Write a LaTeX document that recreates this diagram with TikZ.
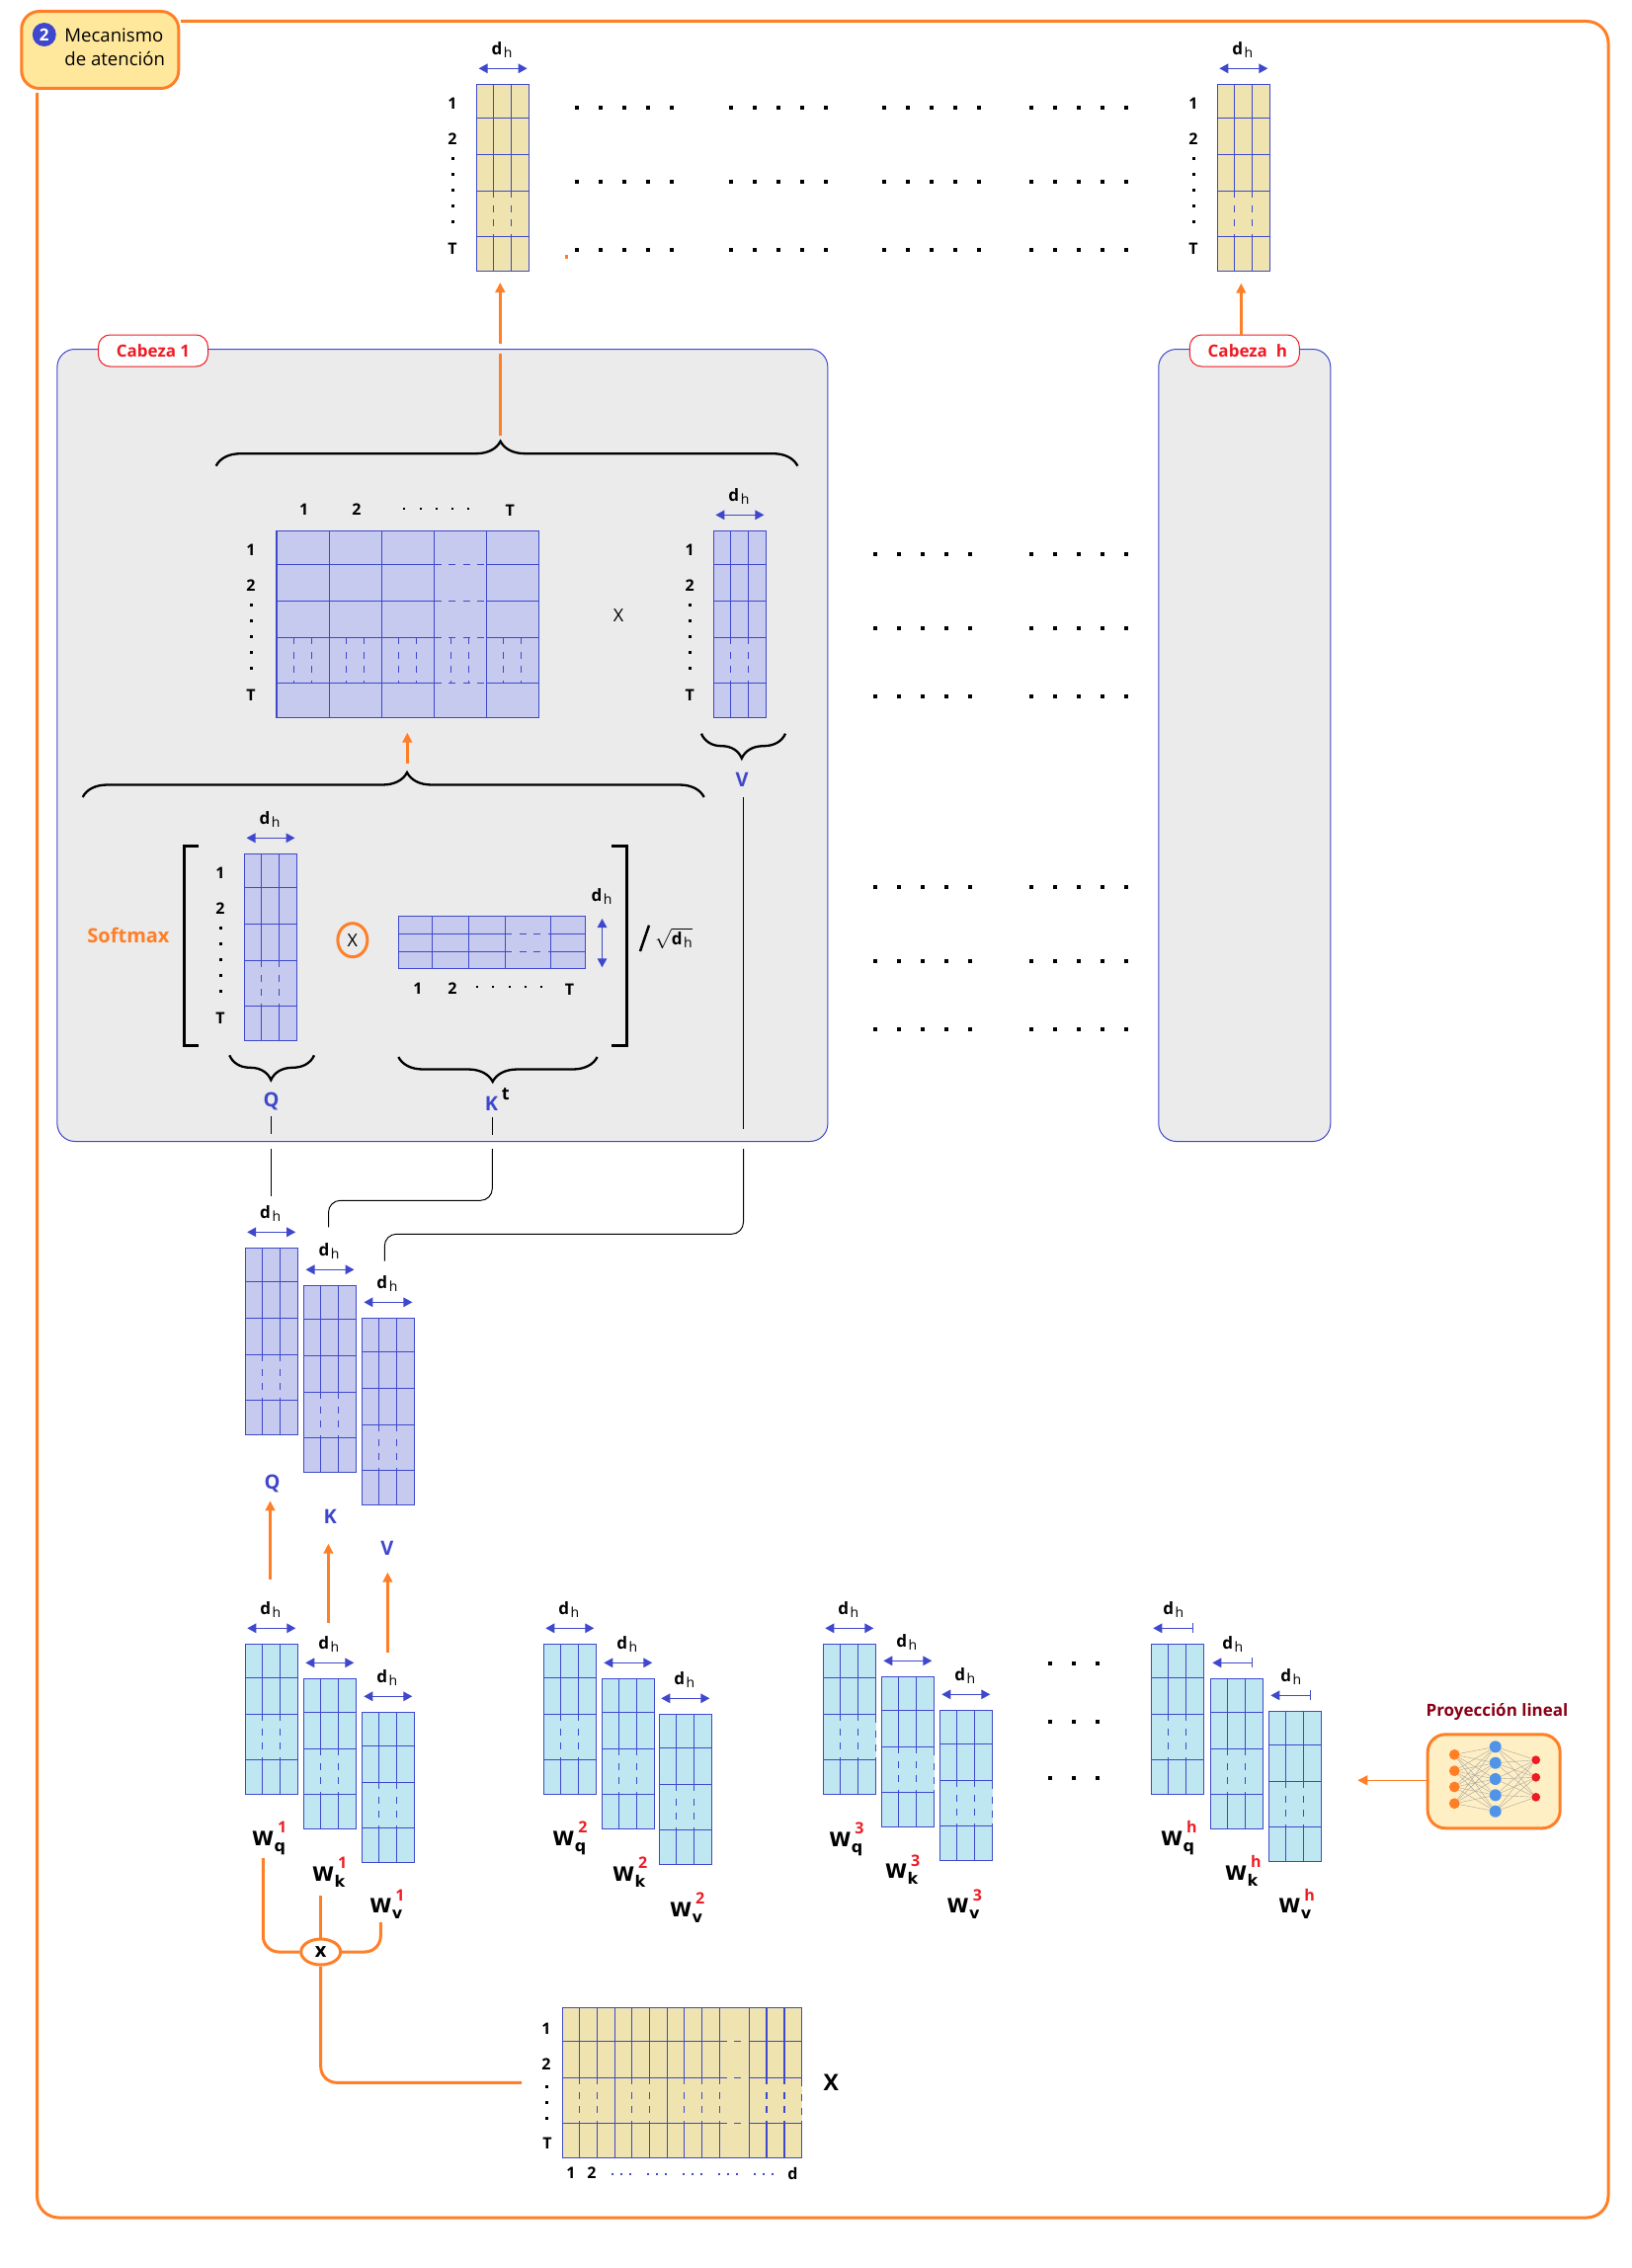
\documentclass[tikz,border=0pt]{standalone}
\usepackage{fontspec}
\setmainfont{Open Sans}
\newfontfamily\widefont{DejaVu Sans}
\usetikzlibrary{arrows.meta, positioning, calc, shapes.geometric, decorations.pathreplacing}
\usepackage{xcolor}

\definecolor{gridblue}{HTML}{3F48CC}
\definecolor{accent}{HTML}{FF7F27}
\definecolor{headred}{HTML}{ED1C24}
\definecolor{tancell}{HTML}{EFE4B0}
\definecolor{lavcell}{HTML}{C6CAEF}
\definecolor{skycell}{HTML}{BFE7F2}
\definecolor{panelgray}{HTML}{EBEBEB}
\definecolor{titlefill}{HTML}{FFE89C}
\definecolor{projfill}{HTML}{FFEFC4}
\definecolor{projtext}{HTML}{880015}
\definecolor{nnblue}{HTML}{4F94E8}

\tikzset{
  gridbox/.style={draw=gridblue, line width=0.65pt, inner sep=0pt, outer sep=0pt, anchor=north west},
  gridline/.style={draw=gridblue, line width=0.6pt},
  griddash/.style={gridline, dash pattern=on 3.5pt off 3.75pt},
  dimarrow/.style={draw=gridblue, line width=0.6pt, {Triangle[length=4.5pt,width=4.8pt]}-{Triangle[length=4.5pt,width=4.8pt]}},
  halfarrow/.style={draw=gridblue, line width=0.6pt, {Triangle[length=4.5pt,width=4.8pt]}-{Bar[width=5pt]}},
  flowarrow/.style={draw=accent, line width=1.5pt, -{Triangle[length=5pt,width=4.8pt]}},
  flowline/.style={draw=accent, line width=1.5pt},
  wire/.style={draw=black, line width=0.5pt},
  mergeline/.style={draw=accent, line width=1.5pt, rounded corners=8pt},
  curly/.style={draw=black, line width=1.15pt, decorate},
  marktxt/.style={font=\bfseries\fontsize{8}{9}\selectfont, inner sep=0pt},
  qkvtxt/.style={font=\bfseries\fontsize{10}{12}\selectfont, text=gridblue, inner sep=0pt},
  panelbox/.style={draw=gridblue, fill=panelgray, line width=0.5pt, rounded corners=9pt, anchor=north west, inner sep=0pt},
  headtag/.style={draw=headred, fill=white, text=headred, line width=0.5pt, rounded corners=6pt, minimum width=55.5pt, minimum height=16pt, inner sep=0pt, font=\bfseries\fontsize{8.5}{10}\selectfont},
}

\newcommand{\dhtxt}{{\bfseries\fontsize{8.5}{9}\selectfont d}\kern0.8pt\raisebox{-1.6pt}{\fontsize{7}{8}\selectfont h}}

% grid column: name, x, y, fill, height, rows, dashed from, dashed to
\newcommand{\gridcol}[8]{
  \node[gridbox, fill=#4, minimum width=26.5pt, minimum height=#5*0.5pt] (#1) at (#2,#3) {};
  \begin{scope}[shift={(#2,#3)}]
    \foreach \rw in {#6} \draw[gridline] (0,\rw) -- (53,\rw);
    \foreach \cl in {17,35} {
      \draw[gridline] (\cl,0) -- (\cl,#7);
      \draw[griddash] (\cl,#7) -- (\cl,#8);
      \draw[gridline] (\cl,#8) -- (\cl,#5);
    }
  \end{scope}
}
\newcommand{\tallcol}[4]{\gridcol{#1}{#2}{#3}{#4}{189}{34,71,108,154}{108}{154}}
\newcommand{\shortcol}[4]{\gridcol{#1}{#2}{#3}{#4}{152.4}{34,71,117}{71}{117}}

% width mark above a column
\newcommand{\dhmark}[1]{
  \draw[dimarrow] ([shift={(1pt,8pt)}]#1.north west) -- ([shift={(-1pt,8pt)}]#1.north east);
  \node[inner sep=0pt] (#1dh) at ([shift={(-0.5pt,17.5pt)}]#1.north) {\dhtxt};
}
\newcommand{\dhhalf}[1]{
  \draw[halfarrow] ([shift={(1pt,8pt)}]#1.north west) -- ([shift={(-5pt,8pt)}]#1.north east);
  \node[inner sep=0pt] (#1dh) at ([shift={(-2pt,17.5pt)}]#1.north) {\dhtxt};
}

% row numbers left of a column
\newcommand{\sqdot}[2]{\fill (#1-1.5,#2-1.5) rectangle (#1+1.5,#2+1.5)}
\newcommand{\rowmarks}[3]{
  \node[marktxt] (#1one) at (#2,#3+19) {1};
  \node[marktxt] (#1two) at (#2,#3+55) {2};
  \foreach \dy in {75,91,107,123,139} \sqdot{#2}{#3+\dy};
  \node[marktxt] (#1last) at (#2,#3+166) {T};
}
\newcommand{\dotrow}[2]{
  \foreach \st in {#1} \foreach \k in {0,...,4} \fill ({\st+24*\k-2},#2-2) rectangle ({\st+24*\k+2},#2+2);
}

% edge of a block that breaks up in its dashed part
\newcommand{\fadeedge}[5]{
  \draw[draw=#5, line width=1pt] (#1,#2+#3) -- (#1,#2+#4);
  \draw[griddash] (#1,#2+#3) -- (#1,#2+#4);
}

\newcommand{\wlab}[5]{
  \node[anchor=base west, inner sep=0pt] (#1) at (#2,#3) {{\widefont\bfseries\fontsize{10}{10}\selectfont W}\kern0.2pt\rlap{\raisebox{-3pt}{\widefont\bfseries\fontsize{8}{9}\selectfont #4}}\kern1.8pt\raisebox{6.3pt}{\bfseries\fontsize{8}{9}\selectfont\textcolor{headred}{#5}}};
}

\begin{document}
\begin{tikzpicture}[x=0.5pt, y=-0.5pt]
  \useasboundingbox (0,0) rectangle (1652,2296);

  % outer frame and title
  \coordinate (frameend) at (37.5,94);
  \coordinate (framestart) at (183,21.5);
  \coordinate (framecorner) at (1628,2245);
  \draw[flowline, rounded corners=11pt] (framestart) -- (framecorner |- framestart) -- (framecorner) -- (frameend |- framecorner) -- (frameend);
  \node[draw=accent, fill=titlefill, line width=1.5pt, rounded corners=9pt, minimum width=79.5pt, minimum height=39pt, anchor=north west, inner sep=0pt] (title) at (20.3,10) {};
  \node[circle, fill=gridblue, text=white, minimum size=12pt, inner sep=0pt, font=\bfseries\fontsize{8.5}{9}\selectfont] (titlenum) at (44.8,35) {2};
  \node[anchor=west, inner sep=0pt, align=left, font=\fontsize{9.3}{12.2}\selectfont] (titletxt) at (65,47.5) {Mecanismo\\de atención};

  % output columns
  \tallcol{outa}{482.6}{85.3}{tancell}
  \dhmark{outa}
  \rowmarks{outa}{458}{85.3}
  \tallcol{outh}{1232.3}{85.3}{tancell}
  \dhmark{outh}
  \rowmarks{outh}{1208}{85.3}
  \foreach \yy in {109,184,253} {\dotrow{583.7,739.9,894.9,1044}{\yy}}
  \fill[accent] (572,258) rectangle (575,262);

  % heads
  \node[panelbox, minimum width=390pt, minimum height=401pt] (head1) at (57.4,353) {};
  \node[panelbox, minimum width=87pt, minimum height=401pt] (headh) at (1172.3,353) {};
  \node[headtag] (tag1) at (155,355) {Cabeza 1};
  \node[headtag] (tagh) at (1259.8,355) {\kern3pt Cabeza \ h};

  \coordinate (uptip) at (506.3,286);
  \coordinate (upgapa) at (506.3,347.7);
  \coordinate (upgapb) at (506.3,358);
  \coordinate (braceatip) at (506.3,441);
  \draw[flowarrow] (upgapa) -- (uptip);
  \draw[flowline] (braceatip) -- (upgapb);
  \coordinate (uphtip) at (1256.3,286.7);
  \draw[flowarrow] (tagh.north -| uphtip) -- (uphtip);

  % upper brace
  \coordinate (braceal) at (218.7,471.7);
  \coordinate (bracear) at (807.4,471.7);
  \draw[curly, decoration={brace, amplitude=12.5pt, aspect=0.489}] (braceal) -- (bracear);

  % attention matrix
  \node[gridbox, fill=lavcell, minimum width=132.7pt, minimum height=94.5pt] (attn) at (280,537.3) {};
  \begin{scope}[shift={(280,537.3)}]
    \foreach \rw in {34,71,108,154} {
      \draw[gridline] (0,\rw) -- (159.6,\rw);
      \draw[griddash] (159.6,\rw) -- (212.3,\rw);
      \draw[gridline] (212.3,\rw) -- (265.4,\rw);
    }
    \foreach \cl in {53.5,106.6,159.6,212.3} \draw[gridline] (\cl,0) -- (\cl,189);
    \foreach \cl in {0,53.1,106.2,159.3,212.4} \foreach \off in {17.4,35.3} \draw[griddash] (\cl+\off,108) -- (\cl+\off,154);
  \end{scope}
  \rowmarks{attn}{254}{537.3}
  \node[marktxt] (attnc1) at (307.8,516) {1};
  \node[marktxt] (attnc2) at (361,516) {2};
  \foreach \xx in {409.4,425.6,441.7,457.9,474} \fill (\xx-1,514) rectangle (\xx+1,516);
  \node[marktxt] (attnct) at (516.3,517) {T};
  \node[inner sep=0pt, font=\fontsize{9}{10}\selectfont] (times) at (626,623) {X};

  % V factor
  \tallcol{vfac}{722.4}{537.3}{lavcell}
  \dhmark{vfac}
  \rowmarks{vfac}{698.3}{537.3}
  \coordinate (vbracel) at (710,742.7);
  \coordinate (vbracer) at (795,742.7);
  \draw[curly, decoration={brace, mirror, amplitude=12.5pt, aspect=0.48}] (vbracel) -- (vbracer);
  \node[qkvtxt] (vlab) at (751,789) {V};

  % arrow and lower brace
  \coordinate (midtip) at (412.3,741.7);
  \coordinate (midbase) at (412.3,772.7);
  \draw[flowarrow] (midbase) -- (midtip);
  \coordinate (bracebl) at (83.7,807);
  \coordinate (bracebr) at (712.7,807);
  \draw[curly, decoration={brace, amplitude=12.5pt, aspect=0.522}] (bracebl) -- (bracebr);

  % softmax
  \node[inner sep=0pt, text=accent, font=\bfseries\fontsize{10}{12}\selectfont] (softmax) at (130,946.7) {Softmax};
  \coordinate (brkla) at (201,856);
  \coordinate (brklb) at (186.3,1058.3);
  \draw[line width=1.5pt] (brkla) -| (brklb) -- (brkla |- brklb);
  \coordinate (brkra) at (619.4,856);
  \coordinate (brkrb) at (634.5,1058.3);
  \draw[line width=1.5pt] (brkra) -| (brkrb) -- (brkra |- brkrb);

  \tallcol{qfac}{247.5}{864.3}{lavcell}
  \dhmark{qfac}
  \rowmarks{qfac}{223}{864.3}
  \node[ellipse, draw=accent, fill=panelgray, line width=1.5pt, minimum width=15pt, minimum height=17pt, inner sep=0pt, font=\fontsize{9}{10}\selectfont] (timesq) at (356.9,951.7) {X};

  \node[gridbox, fill=lavcell, minimum width=94.7pt, minimum height=26.5pt] (kfac) at (403.3,927.3) {};
  \begin{scope}[shift={(403.3,927.3)}]
    \foreach \rw in {18,36} {
      \draw[gridline] (0,\rw) -- (108,\rw);
      \draw[griddash] (108,\rw) -- (154,\rw);
      \draw[gridline] (154,\rw) -- (189.3,\rw);
    }
    \foreach \cl in {33.9,71.4,108,154} \draw[gridline] (\cl,0) -- (\cl,53);
  \end{scope}
  \node[marktxt] (kfacc1) at (423,1001) {1};
  \node[marktxt] (kfacc2) at (458,1001) {2};
  \foreach \xx in {483.2,499.4,515.6,531.8,548} \fill (\xx-1,998) rectangle (\xx+1,1000);
  \node[marktxt] (kfacct) at (576.5,1002) {T};
  \coordinate (kdima) at (609.5,930);
  \coordinate (kdimb) at (609.5,979.3);
  \draw[dimarrow] (kdima) -- (kdimb);
  \node[inner sep=0pt] (kfacdh) at (609,907.7) {\dhtxt};

  \coordinate (slasha) at (648,963);
  \coordinate (slashb) at (657,936.7);
  \draw[line width=1.25pt] (slasha) -- (slashb);
  \node[inner sep=0pt] (rootdh) at (682,950) {$\sqrt{\hbox{\dhtxt}}$};

  \coordinate (qbracel) at (232.3,1068.3);
  \coordinate (qbracer) at (318,1068.3);
  \draw[curly, decoration={brace, mirror, amplitude=12.5pt, aspect=0.49}] (qbracel) -- (qbracer);
  \node[qkvtxt] (qlab) at (274.7,1114.5) {Q};
  \coordinate (kbracel) at (403.3,1070);
  \coordinate (kbracer) at (604.6,1070);
  \draw[curly, decoration={brace, mirror, amplitude=12.5pt, aspect=0.474}] (kbracel) -- (kbracer);
  \node[qkvtxt] (klab) at (497.5,1117) {K};
  \node[inner sep=0pt, font=\bfseries\fontsize{9}{10}\selectfont] (ktop) at (511.8,1108) {t};

  % wires inside and below the head
  \coordinate (qwa) at (274.3,1130);
  \coordinate (qwb) at (274.3,1148.3);
  \draw[wire] (qwa) -- (qwb);
  \coordinate (kwa) at (498.4,1130.7);
  \coordinate (kwb) at (498.4,1149);
  \draw[wire] (kwa) -- (kwb);
  \coordinate (vwa) at (752.5,807.3);
  \coordinate (vwb) at (752.5,1142.7);
  \draw[wire] (vwa) -- (vwb);

  \coordinate (qwc) at (274.3,1163);
  \coordinate (qwd) at (274.3,1210.7);
  \draw[wire] (qwc) -- (qwd);
  \coordinate (kwc) at (498.3,1163);
  \coordinate (kwbend) at (332.5,1215.3);
  \coordinate (kwd) at (332.5,1242.3);
  \draw[wire, rounded corners=6pt] (kwc) |- (kwbend) -- (kwd);
  \coordinate (vwc) at (752.5,1163);
  \coordinate (vwbend) at (389.3,1249.3);
  \coordinate (vwd) at (389.3,1276.7);
  \draw[wire, rounded corners=6pt] (vwc) |- (vwbend) -- (vwd);

  % Q, K, V
  \tallcol{qmat}{248.2}{1263.3}{lavcell}
  \dhmark{qmat}
  \tallcol{kmat}{307.5}{1301.3}{lavcell}
  \dhmark{kmat}
  \tallcol{vmat}{366.4}{1334.3}{lavcell}
  \dhmark{vmat}
  \node[qkvtxt] (qmatlab) at (275.7,1501.7) {Q};
  \node[qkvtxt] (kmatlab) at (334.3,1535.3) {K};
  \node[qkvtxt] (vmatlab) at (391.8,1567.3) {V};

  % weight matrices
  \shortcol{wq1}{248.3}{1664.3}{skycell}
  \dhmark{wq1}
  \shortcol{wk1}{307.3}{1699.3}{skycell}
  \dhmark{wk1}
  \shortcol{wv1}{366.3}{1733.3}{skycell}
  \dhmark{wv1}
  \shortcol{wq2}{550.3}{1664.3}{skycell}
  \dhmark{wq2}
  \shortcol{wk2}{609.3}{1699.3}{skycell}
  \dhmark{wk2}
  \shortcol{wv2}{667.3}{1735.3}{skycell}
  \dhmark{wv2}
  \shortcol{wq3}{833.3}{1664.3}{skycell}
  \dhmark{wq3}
  \shortcol{wk3}{892.3}{1697.3}{skycell}
  \dhmark{wk3}
  \shortcol{wv3}{951.3}{1731.3}{skycell}
  \dhmark{wv3}
  \fadeedge{886.3}{1664.3}{73}{115}{skycell}
  \fadeedge{945.3}{1697.3}{73}{115}{skycell}
  \fadeedge{1004.3}{1731.3}{73}{115}{skycell}
  \shortcol{wqh}{1165.3}{1664.3}{skycell}
  \dhhalf{wqh}
  \shortcol{wkh}{1225.3}{1699.3}{skycell}
  \dhhalf{wkh}
  \shortcol{wvh}{1284.3}{1732.3}{skycell}
  \dhhalf{wvh}

  \coordinate (qup) at (273.5,1519.3);
  \coordinate (qupb) at (273.5,1599.3);
  \draw[flowarrow] (qupb) -- (qup);
  \coordinate (kup) at (332.4,1562.7);
  \coordinate (kupb) at (332.4,1642.7);
  \draw[flowarrow] (kupb) -- (kup);
  \coordinate (vup) at (392.4,1591.7);
  \coordinate (vupb) at (392.4,1672.7);
  \draw[flowarrow] (vupb) -- (vup);

  \wlab{wq1lab}{254.7}{1868.3}{q}{1}
  \wlab{wk1lab}{315.7}{1904.3}{k}{1}
  \wlab{wv1lab}{374}{1936.7}{v}{1}
  \wlab{wq2lab}{559}{1868.3}{q}{2}
  \wlab{wk2lab}{619.7}{1904.3}{k}{2}
  \wlab{wv2lab}{677.7}{1940}{v}{2}
  \wlab{wq3lab}{839}{1869.3}{q}{3}
  \wlab{wk3lab}{895.7}{1901.7}{k}{3}
  \wlab{wv3lab}{958.3}{1936.7}{v}{3}
  \wlab{wqhlab}{1174.7}{1868}{q}{h}
  \wlab{wkhlab}{1239.7}{1903}{k}{h}
  \wlab{wvhlab}{1294}{1936.7}{v}{h}

  \foreach \yy in {1683.7,1742.7,1799.7} \foreach \xx in {1063,1087,1111} \fill (\xx-2,\yy-2) rectangle (\xx+2,\yy+2);

  % blocks between the head columns
  \foreach \yy in {561,636,705,898,973,1042} {\dotrow{886,1044}{\yy}}

  % merge of the weights and input
  \node[ellipse, draw=accent, fill=white, line width=1.5pt, minimum width=20pt, minimum height=13pt, inner sep=0pt, font=\bfseries\fontsize{10}{10}\selectfont] (merge) at (324.7,1976) {x};
  \coordinate (wqdown) at (266.3,1881);
  \coordinate (wkdown) at (324.7,1919.3);
  \coordinate (wvdown) at (385.3,1946);
  \coordinate (xfeed) at (528,2108.3);
  \draw[mergeline] (wqdown) |- (merge.west);
  \draw[flowline] (wkdown) -- (merge.north);
  \draw[mergeline] (wvdown) |- (merge.east);
  \draw[mergeline] (merge.south) |- (xfeed);

  % input matrix
  \node[gridbox, fill=tancell, minimum width=121pt, minimum height=76pt] (xmat) at (569.4,2032.3) {};
  \begin{scope}[shift={(569.4,2032.3)}]
    \foreach \rw in {34,71,117} {
      \draw[gridline] (0,\rw) -- (159.2,\rw);
      \draw[griddash] (159.2,\rw) -- (189.3,\rw);
      \draw[gridline] (189.3,\rw) -- (242,\rw);
    }
    \foreach \cl in {53,106.1,189.3} \draw[gridline] (\cl,0) -- (\cl,152);
    \foreach \cl in {17.1,35.1,70.2,88.2,123.3,141.2,159.2,206.5,224.5} {
      \draw[gridline] (\cl,0) -- (\cl,71);
      \draw[griddash] (\cl,71) -- (\cl,117);
      \draw[gridline] (\cl,117) -- (\cl,152);
    }
  \end{scope}
  \fadeedge{811.4}{2032.3}{73}{115}{tancell}
  \node[marktxt] (xmatone) at (553,2053.3) {1};
  \node[marktxt] (xmattwo) at (553,2090) {2};
  \foreach \yy in {2112.3,2128.7,2144.7} \fill (552,\yy-1.5) rectangle (555,\yy+1.5);
  \node[marktxt] (xmatlast) at (554,2170) {T};
  \node[marktxt] (xmatc1) at (578,2200) {1};
  \node[marktxt] (xmatc2) at (599,2200) {2};
  \foreach \st in {620.4,656.4,692.4,728.4,764.4} \foreach \k in {0,1,2} \fill[gridblue] (\st+8.8*\k-1,2199.5) rectangle (\st+8.8*\k+1,2201.5);
  \node[marktxt] (xmatd) at (802.4,2200) {d};
  \node[inner sep=0pt, font=\bfseries\fontsize{11.5}{13}\selectfont] (xmatlab) at (841.2,2108.3) {X};

  % projection
  \node[inner sep=0pt, text=projtext, font=\bfseries\fontsize{8.5}{10}\selectfont] (projtxt) at (1515.5,1733) {Proyección lineal};
  \node[draw=accent, fill=projfill, line width=1.5pt, rounded corners=9pt, minimum width=67pt, minimum height=47.5pt, inner sep=0pt, anchor=north west] (proj) at (1443.7,1754.3) {};
  \coordinate (projtip) at (1374.3,1802.3);
  \draw[draw=accent, line width=0.7pt, -{Triangle[length=5pt,width=5pt]}] (proj.west |- projtip) -- (projtip);
  \foreach \ii/\yy in {1/1776.3,2/1792.7,3/1809,4/1825.7} \node[circle, fill=accent, minimum size=5.4pt, inner sep=0pt] (nna\ii) at (1472.3,\yy) {};
  \foreach \ii/\yy in {1/1768.3,2/1784.7,3/1801,4/1817.3,5/1833.7} \node[circle, fill=nnblue, minimum size=6pt, inner sep=0pt] (nnb\ii) at (1513.7,\yy) {};
  \foreach \ii/\yy in {1/1781.7,2/1799.3,3/1819.3} \node[circle, fill=headred, minimum size=4.4pt, inner sep=0pt] (nnc\ii) at (1554.7,\yy) {};
  \foreach \ii in {1,...,4} \foreach \jj in {1,...,5} \draw[gray!70, line width=0.2pt] (nna\ii) -- (nnb\jj);
  \foreach \ii in {1,...,5} \foreach \jj in {1,...,3} \draw[gray!70, line width=0.2pt] (nnb\ii) -- (nnc\jj);
\end{tikzpicture}
\end{document}
